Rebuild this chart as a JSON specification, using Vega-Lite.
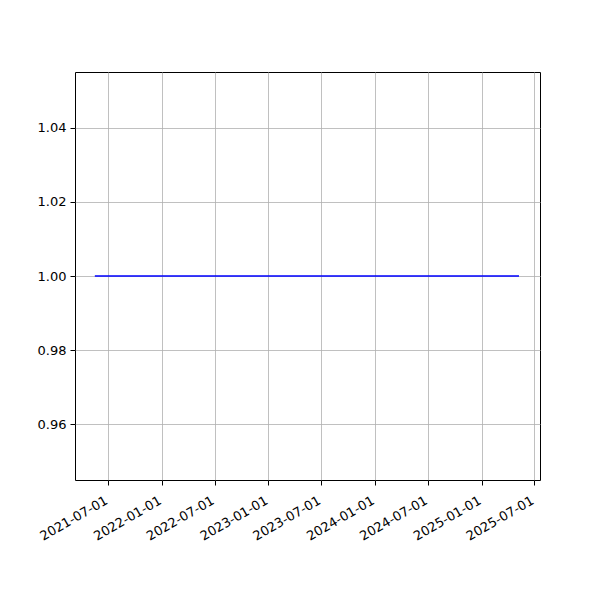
{
  "$schema": "https://vega.github.io/schema/vega-lite/v6.json",
  "width": 465,
  "height": 408,
  "autosize": {"type": "none"},
  "padding": {"left": 75, "top": 72, "right": 60, "bottom": 120},
  "background": "white",
  "config": {
    "font": "DejaVu Sans",
    "view": {"stroke": "black", "strokeWidth": 1},
    "axis": {
      "labelFont": "DejaVu Sans",
      "labelFontSize": 13,
      "labelColor": "black",
      "grid": true,
      "gridColor": "#b0b0b0",
      "gridWidth": 0.8,
      "domain": false,
      "tickColor": "black",
      "tickSize": 5,
      "tickWidth": 1,
      "labelPadding": 4,
      "title": null
    }
  },
  "data": {
    "values": [
      {"date": "2021-05-16", "value": 1.0},
      {"date": "2025-05-09", "value": 1.0}
    ]
  },
  "mark": {"type": "line", "color": "#0000ff", "strokeWidth": 1.5},
  "encoding": {
    "x": {
      "field": "date",
      "type": "temporal",
      "scale": {
        "type": "utc",
        "domain": [
          {"year": 2021, "month": 3, "date": 9, "utc": true},
          {"year": 2025, "month": 7, "date": 20, "utc": true}
        ]
      },
      "axis": {
        "values": [
          {"year": 2021, "month": 7, "date": 1, "utc": true},
          {"year": 2022, "month": 1, "date": 1, "utc": true},
          {"year": 2022, "month": 7, "date": 1, "utc": true},
          {"year": 2023, "month": 1, "date": 1, "utc": true},
          {"year": 2023, "month": 7, "date": 1, "utc": true},
          {"year": 2024, "month": 1, "date": 1, "utc": true},
          {"year": 2024, "month": 7, "date": 1, "utc": true},
          {"year": 2025, "month": 1, "date": 1, "utc": true},
          {"year": 2025, "month": 7, "date": 1, "utc": true}
        ],
        "labelExpr": "utcFormat(datum.value, '%Y-%m-%d')",
        "labelAngle": -30,
        "labelAlign": "right",
        "labelBaseline": "top",
        "labelOverlap": false,
        "labelFlush": false,
        "labelOffset": -5,
        "labelPadding": 9
      }
    },
    "y": {
      "field": "value",
      "type": "quantitative",
      "scale": {"domain": [0.945, 1.055], "nice": false, "zero": false},
      "axis": {
        "values": [0.96, 0.98, 1.0, 1.02, 1.04],
        "format": ".2f"
      }
    }
  }
}
